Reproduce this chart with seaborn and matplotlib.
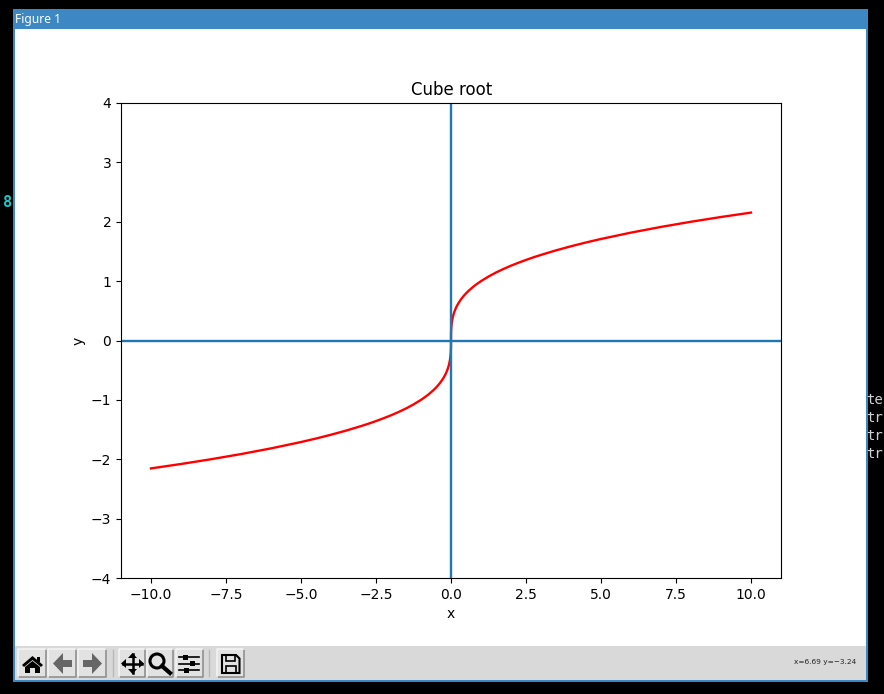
import matplotlib
matplotlib.use('Agg')
import matplotlib.pyplot as plt
from matplotlib.patches import Rectangle, Polygon, Circle
import seaborn as sns

# values
x_vals = [-10.0, -9.0, -8.0, -7.0, -6.0, -5.0, -4.5, -4.0, -3.5, -3.0, -2.75, -2.5, -2.25, -2.0, -1.75, -1.5, -1.25,
          -1.0, -0.85, -0.75, -0.6, -0.5, -0.42, -0.35, -0.25, -0.2, -0.16, -0.12, -0.08, -0.06, -0.04, -0.03,
          -0.02, -0.01, -0.005, -0.002, -0.0005, 0.0,
          0.0005, 0.002, 0.005, 0.01, 0.02, 0.03, 0.04, 0.06, 0.08, 0.12, 0.16, 0.2, 0.25, 0.35, 0.42, 0.5, 0.6,
          0.75, 0.85, 1.0, 1.25, 1.5, 1.75, 2.0, 2.25, 2.5, 2.75, 3.0, 3.5, 4.0, 4.5, 5.0, 6.0, 7.0, 8.0, 9.0, 10.0]
y_vals = [-2.154, -2.08, -2.0, -1.913, -1.817, -1.71, -1.651, -1.587, -1.518, -1.442, -1.401, -1.357, -1.31, -1.26,
          -1.205, -1.145, -1.077, -1.0, -0.947, -0.909, -0.843, -0.794, -0.749, -0.705, -0.63, -0.585, -0.543,
          -0.493, -0.431, -0.391, -0.342, -0.311, -0.271, -0.215, -0.171, -0.126, -0.079, 0.0,
          0.079, 0.126, 0.171, 0.215, 0.271, 0.311, 0.342, 0.391, 0.431, 0.493, 0.543, 0.585, 0.63, 0.705, 0.749,
          0.794, 0.843, 0.909, 0.947, 1.0, 1.077, 1.145, 1.205, 1.26, 1.31, 1.357, 1.401, 1.442, 1.518, 1.587,
          1.651, 1.71, 1.817, 1.913, 2.0, 2.08, 2.154]
x_limits = [-11, 11]
y_limits = [-4, 4]

W, H = 884, 694
BLUE = '#3d87c2'
GREY = '#d9d9d9'

fig = plt.figure(figsize=(W / 100, H / 100), dpi=100, facecolor='black')

# window frame, in pixel coordinates
chrome = fig.add_axes([0, 0, 1, 1], zorder=0)
chrome.set_xlim(0, W)
chrome.set_ylim(H, 0)
chrome.axis('off')


def box(x0, y0, x1, y1, **kw):
    chrome.add_patch(Rectangle((x0, y0), x1 - x0, y1 - y0, linewidth=kw.pop('lw', 0), **kw))


box(13, 9, 868, 682, facecolor=BLUE)
box(15, 29, 866, 646, facecolor='white')
box(15, 646, 866, 680, facecolor=GREY)
chrome.text(15, 19, 'Figure 1', color='white', fontsize=8.7, family='Noto Sans', va='center')
chrome.text(7.5, 202, '8', color='#18c8c8', fontsize=11, weight='bold', family='DejaVu Sans Mono',
            ha='center', va='center')
for row, label in zip([400, 418, 436, 454], ['te', 'tr', 'tr', 'tr']):
    chrome.text(866.5, row, label, color='#d0d0d0', fontsize=10, family='DejaVu Sans Mono', va='center')
chrome.text(856, 662, 'x=6.69 y=\u22123.24', color='#222222', fontsize=5.3, ha='right', va='center')

# toolbar buttons
for x0, x1 in [(18, 46), (48, 76), (78, 106), (119, 145), (147, 173), (176, 203), (217, 244)]:
    box(x0, 649, x1, 677, facecolor='#e2e2e2')
    chrome.plot([x0, x1, x1], [677, 677, 649], color='#8a8a8a', lw=1.1)
    chrome.plot([x0, x0, x1], [677, 649, 649], color='#f5f5f5', lw=1.1)
for x0 in [113, 209]:
    chrome.plot([x0, x0], [650, 676], color='#b8b8b8', lw=1)

# home
chrome.add_patch(Polygon([(22, 665), (32.5, 656), (43, 665), (41, 667), (32.5, 660), (24, 667)], color='black', lw=0))
chrome.add_patch(Polygon([(25, 667), (32.5, 661), (40, 667), (40, 673), (35, 673), (35, 668), (30, 668), (30, 673),
                          (25, 673)], color='black', lw=0))
chrome.add_patch(Rectangle((37, 657), 3, 5, color='black', lw=0))
# back and forward, dithered in the original
chrome.add_patch(Polygon([(53, 663.5), (63, 653), (63, 660), (72, 660), (72, 667), (63, 667), (63, 674)],
                         facecolor='#666666', lw=0))
chrome.add_patch(Polygon([(102, 663.5), (92, 653), (92, 660), (83, 660), (83, 667), (92, 667), (92, 674)],
                         facecolor='#666666', lw=0))
# move
chrome.plot([123, 142], [663.5, 663.5], color='black', lw=1.8)
chrome.plot([132.5, 132.5], [654, 673], color='black', lw=1.8)
for pts in [[(121, 663.5), (126, 659), (126, 668)], [(144, 663.5), (139, 659), (139, 668)],
            [(132.5, 653), (128, 658), (137, 658)], [(132.5, 674), (128, 669), (137, 669)]]:
    chrome.add_patch(Polygon(pts, color='black', lw=0))
# zoom
chrome.add_patch(Circle((157, 661), 7, fill=False, edgecolor='black', lw=2.2))
chrome.plot([162, 170], [666, 673], color='black', lw=3)
# sliders
for row, knob in [(657, 185), (663.5, 192), (670, 186)]:
    chrome.plot([179, 199], [row, row], color='black', lw=1.2)
    chrome.add_patch(Rectangle((knob - 2.5, row - 2.5), 5, 5, color='black', lw=0))
# save
chrome.add_patch(Polygon([(222, 655), (236, 655), (239.5, 658.5), (239.5, 673), (222, 673)], fill=False,
                         edgecolor='black', lw=1.5))
chrome.add_patch(Rectangle((226, 655), 9, 6, fill=False, edgecolor='black', lw=1.2))
chrome.add_patch(Rectangle((226, 666), 10, 7, fill=False, edgecolor='black', lw=1.2))

# the plot itself
left, right, top, bottom = 121, 781, 103, 578
ax = fig.add_axes([left / W, 1 - bottom / H, (right - left) / W, (bottom - top) / H], zorder=1)
sns.lineplot(x=x_vals, y=y_vals, color='red', linewidth=1.7, sort=False, errorbar=None, ax=ax)
ax.axhline(0, linewidth=1.7)
ax.axvline(0, linewidth=1.7)
ax.set_xlim(x_limits)
ax.set_ylim(y_limits)
ax.set_title('Cube root', x=0.5015)
ax.set_xlabel('x')
ax.set_ylabel('y')

fig.savefig('out.png', dpi=100, facecolor='black')
